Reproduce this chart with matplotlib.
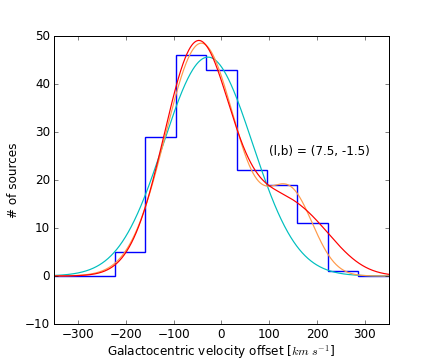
import numpy as np
import matplotlib
matplotlib.use("Agg")
import matplotlib.pyplot as plt

plt.style.use("classic")

# Histogram data
bin_edges = [-350.0, -286.4, -222.7, -159.1, -95.5, -31.8, 31.8, 95.5, 159.1, 222.7, 286.4, 350.0]
counts = [0, 0, 5, 29, 46, 43, 22, 19, 11, 1, 0]

# Fitted models: (amplitude, mean, sigma) for each Gaussian component
cyan_components = [(45.6, -28.0, 93.0)]
red_components = [(48.3, -50.0, 70.0), (12.5, 112.0, 68.0), (6.0, 200.0, 62.0)]
orange_components = [(48.5, -42.0, 75.0), (16.5, 145.0, 48.0)]

label_text = "(l,b) = (7.5, -1.5)"

x = np.linspace(-350, 350, 701)


def model(comps):
    y = np.zeros_like(x)
    for a, m, s in comps:
        y += a * np.exp(-(x - m) ** 2 / (2 * s ** 2))
    return y


fig = plt.figure(figsize=(6, 5), dpi=72)
ax = fig.add_subplot(111)
centers = [(bin_edges[i] + bin_edges[i + 1]) / 2 for i in range(len(counts))]
ax.hist(centers, bins=bin_edges, weights=counts, histtype="step",
        color="#0000ff", linewidth=1.4)
ax.plot(x, model(cyan_components), color="c", linewidth=1.2)
ax.plot(x, model(orange_components), color="#ff9a4a", linewidth=1.2)
ax.plot(x, model(red_components), color="r", linewidth=1.2)

ax.set_xlim(-350, 350)
ax.set_ylim(-10, 50)
ax.set_xticks([-300, -200, -100, 0, 100, 200, 300])
ax.set_yticks([-10, 0, 10, 20, 30, 40, 50])
ax.text(100, 26, label_text, va="center", ha="left", fontsize=12)
ax.set_xlabel(r"Galactocentric velocity offset [$km\ s^{-1}$]", labelpad=2)
ax.set_ylabel("# of sources")

fig.savefig("out.png", dpi=72)
